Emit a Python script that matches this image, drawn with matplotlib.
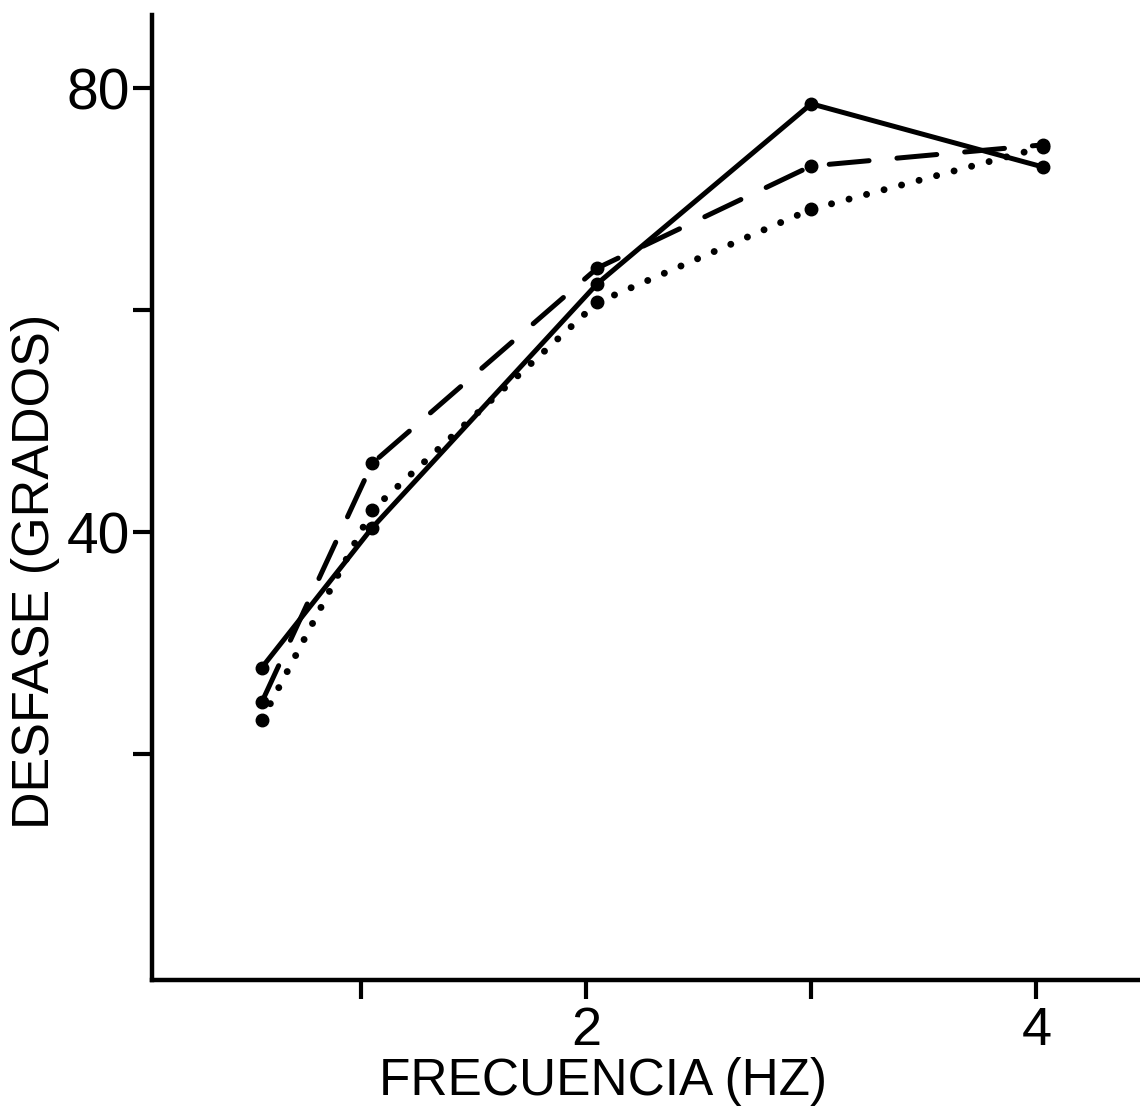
import matplotlib
matplotlib.use("Agg")
import matplotlib.pyplot as plt

# Frequency (Hz) and phase lag (degrees) for three recordings
freq = [0.56, 1.05, 2.05, 3.0, 4.03]
solid_vals = [27.8, 40.4, 62.4, 78.6, 72.9]
dashed_vals = [24.7, 46.2, 63.8, 73.0, 74.9]
dotted_vals = [23.1, 42.0, 60.7, 69.1, 74.7]

xticks = [1, 2, 3, 4]
xtick_labels = ["", "2", "", "4"]
yticks = [20, 40, 60, 80]
ytick_labels = ["", "40", "", "80"]

plt.rcParams["font.family"] = ["Liberation Sans", "DejaVu Sans"]

fig = plt.figure(figsize=(11.40, 11.08), dpi=100)
ax = fig.add_axes([152 / 1140, 1 - 980 / 1108, 1 - 152 / 1140, (980 - 15) / 1108])

lw = 3.6
ax.plot(freq, solid_vals, color="black", lw=lw, solid_capstyle="round",
        marker="o", ms=9, zorder=3)
ax.plot(freq, dashed_vals, color="black", lw=lw, linestyle=(0, (8, 5.6)),
        dash_capstyle="round", marker="o", ms=9, zorder=3)
ax.plot(freq, dotted_vals, color="black", lw=5, linestyle=(0, (0.01, 2.6)),
        dash_capstyle="round", marker="o", ms=9, zorder=3)

ax.set_xlim(0.072, 4.46)
ax.set_ylim(-0.35, 86.6)

for side in ("top", "right"):
    ax.spines[side].set_visible(False)
for side in ("left", "bottom"):
    ax.spines[side].set_linewidth(3.2)

ax.set_xticks(xticks)
ax.set_xticklabels(xtick_labels)
ax.set_yticks(yticks)
ax.set_yticklabels(ytick_labels)
ax.tick_params(axis="both", direction="out", length=14, width=3, color="black")
ax.tick_params(axis="y", labelsize=41, pad=2)
ax.tick_params(axis="x", labelsize=39, pad=5)

ax.set_ylabel("DESFASE (GRADOS)", fontsize=37.5, va="center")
ax.yaxis.set_label_coords((36 - 152) / 988, (980 - 571) / 965)
ax.set_xlabel("FRECUENCIA (HZ)", fontsize=37, va="center")
ax.xaxis.set_label_coords((603 - 152) / 988, (980 - 1082) / 965)

fig.savefig("out.png", dpi=100, facecolor="white")
